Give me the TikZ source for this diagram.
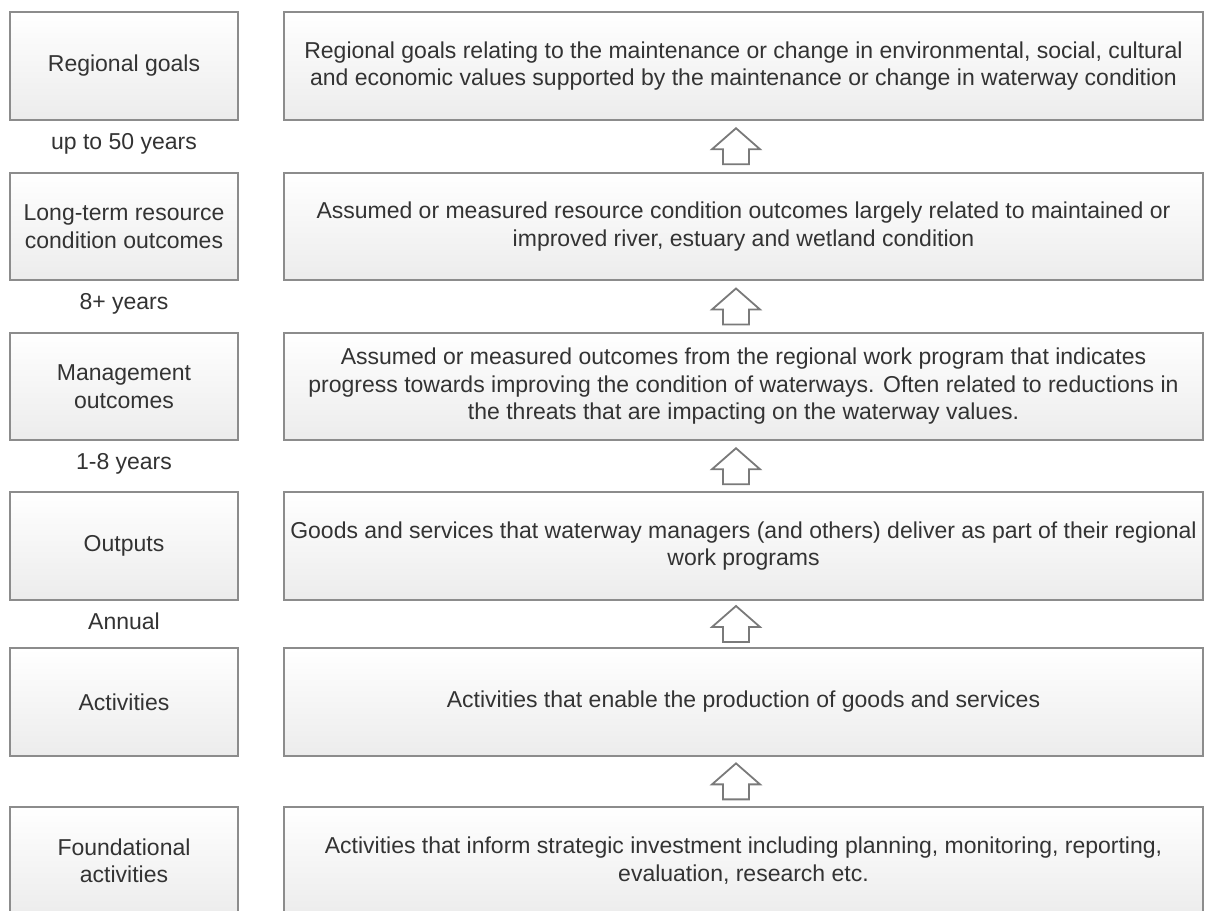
\documentclass[tikz,border=0pt]{standalone}
\usepackage{fontspec}
\setmainfont{Liberation Sans}
\usetikzlibrary{calc}
\definecolor{boxline}{HTML}{8C8C8C}
\definecolor{arrline}{HTML}{7A7A7A}
\definecolor{txt}{HTML}{333333}
\definecolor{boxbot}{HTML}{ECECEC}
\begin{document}
\begin{tikzpicture}[x=1pt,y=1pt,
  txtfont/.style={font=\fontsize{23}{27.5}\selectfont, text=txt},
  box/.style={draw=boxline, line width=2.2pt, top color=white, bottom color=boxbot,
    minimum height=107.5pt, inner sep=0pt, txtfont, align=center},
  lbox/.style={box, minimum width=228pt},
  rbox/.style={box, minimum width=919pt},
  lab/.style={txtfont, anchor=base, inner sep=0pt},
  blockarrow/.style={draw=arrline, fill=white, line width=1.8pt, line join=miter}
]
\useasboundingbox (0,0) rectangle (1206,910);
\fill[white] (0,0) rectangle (1206,910);
\clip (0,0) rectangle (1206,910);

% left column
\node[lbox] (l1) at (124,844)   {Regional goals};
\node[lbox] (l2) at (124,683.5) {Long-term resource\\condition outcomes};
\node[lbox] (l3) at (124,523.5) {Management\\outcomes};
\node[lbox] (l4) at (124,364)   {Outputs};
\node[lbox] (l5) at (124,208)   {Activities};
\node[lbox] (l6) at (124,49.25) {Foundational\\activities};

% time labels
\node[lab] (t1) at (124,760) {up to 50 years};
\node[lab] (t2) at (124,600) {8+ years};
\node[lab] (t3) at (124,440) {1-8 years};
\node[lab] (t4) at (124,280) {Annual};

% right column
\node[rbox] (r1) at (743.5,844) {Regional goals relating to the maintenance or change in environmental, social, cultural\\and economic values supported by the maintenance or change in waterway condition};
\node[rbox] (r2) at (743.5,683.5) {Assumed or measured resource condition outcomes largely related to maintained or\\improved river, estuary and wetland condition};
\node[rbox] (r3) at (743.5,523.5) {Assumed or measured outcomes from the regional work program that indicates\\progress towards improving the condition of waterways. Often related to reductions in\\the threats that are impacting on the waterway values.};
\node[rbox] (r4) at (743.5,364) {Goods and services that waterway managers (and others) deliver as part of their regional\\work programs};
\node[rbox] (r5) at (743.5,208) {Activities that enable the production of goods and services};
\node[rbox] (r6) at (743.5,49.25) {Activities that inform strategic investment including planning, monitoring, reporting,\\evaluation, research etc.};

% block arrows between right boxes
\foreach \lo/\hi in {r2/r1, r3/r2, r4/r3, r5/r4, r6/r5}{
  \draw[blockarrow] ($(\lo.north)!0.5!(\hi.south)+(-20.5,-18)$)
    -- ++(0,15) -- ++(-11,0) -- ++(24,21) -- ++(24,-21) -- ++(-11,0) -- ++(0,-15) -- cycle;
}
\end{tikzpicture}
\end{document}
